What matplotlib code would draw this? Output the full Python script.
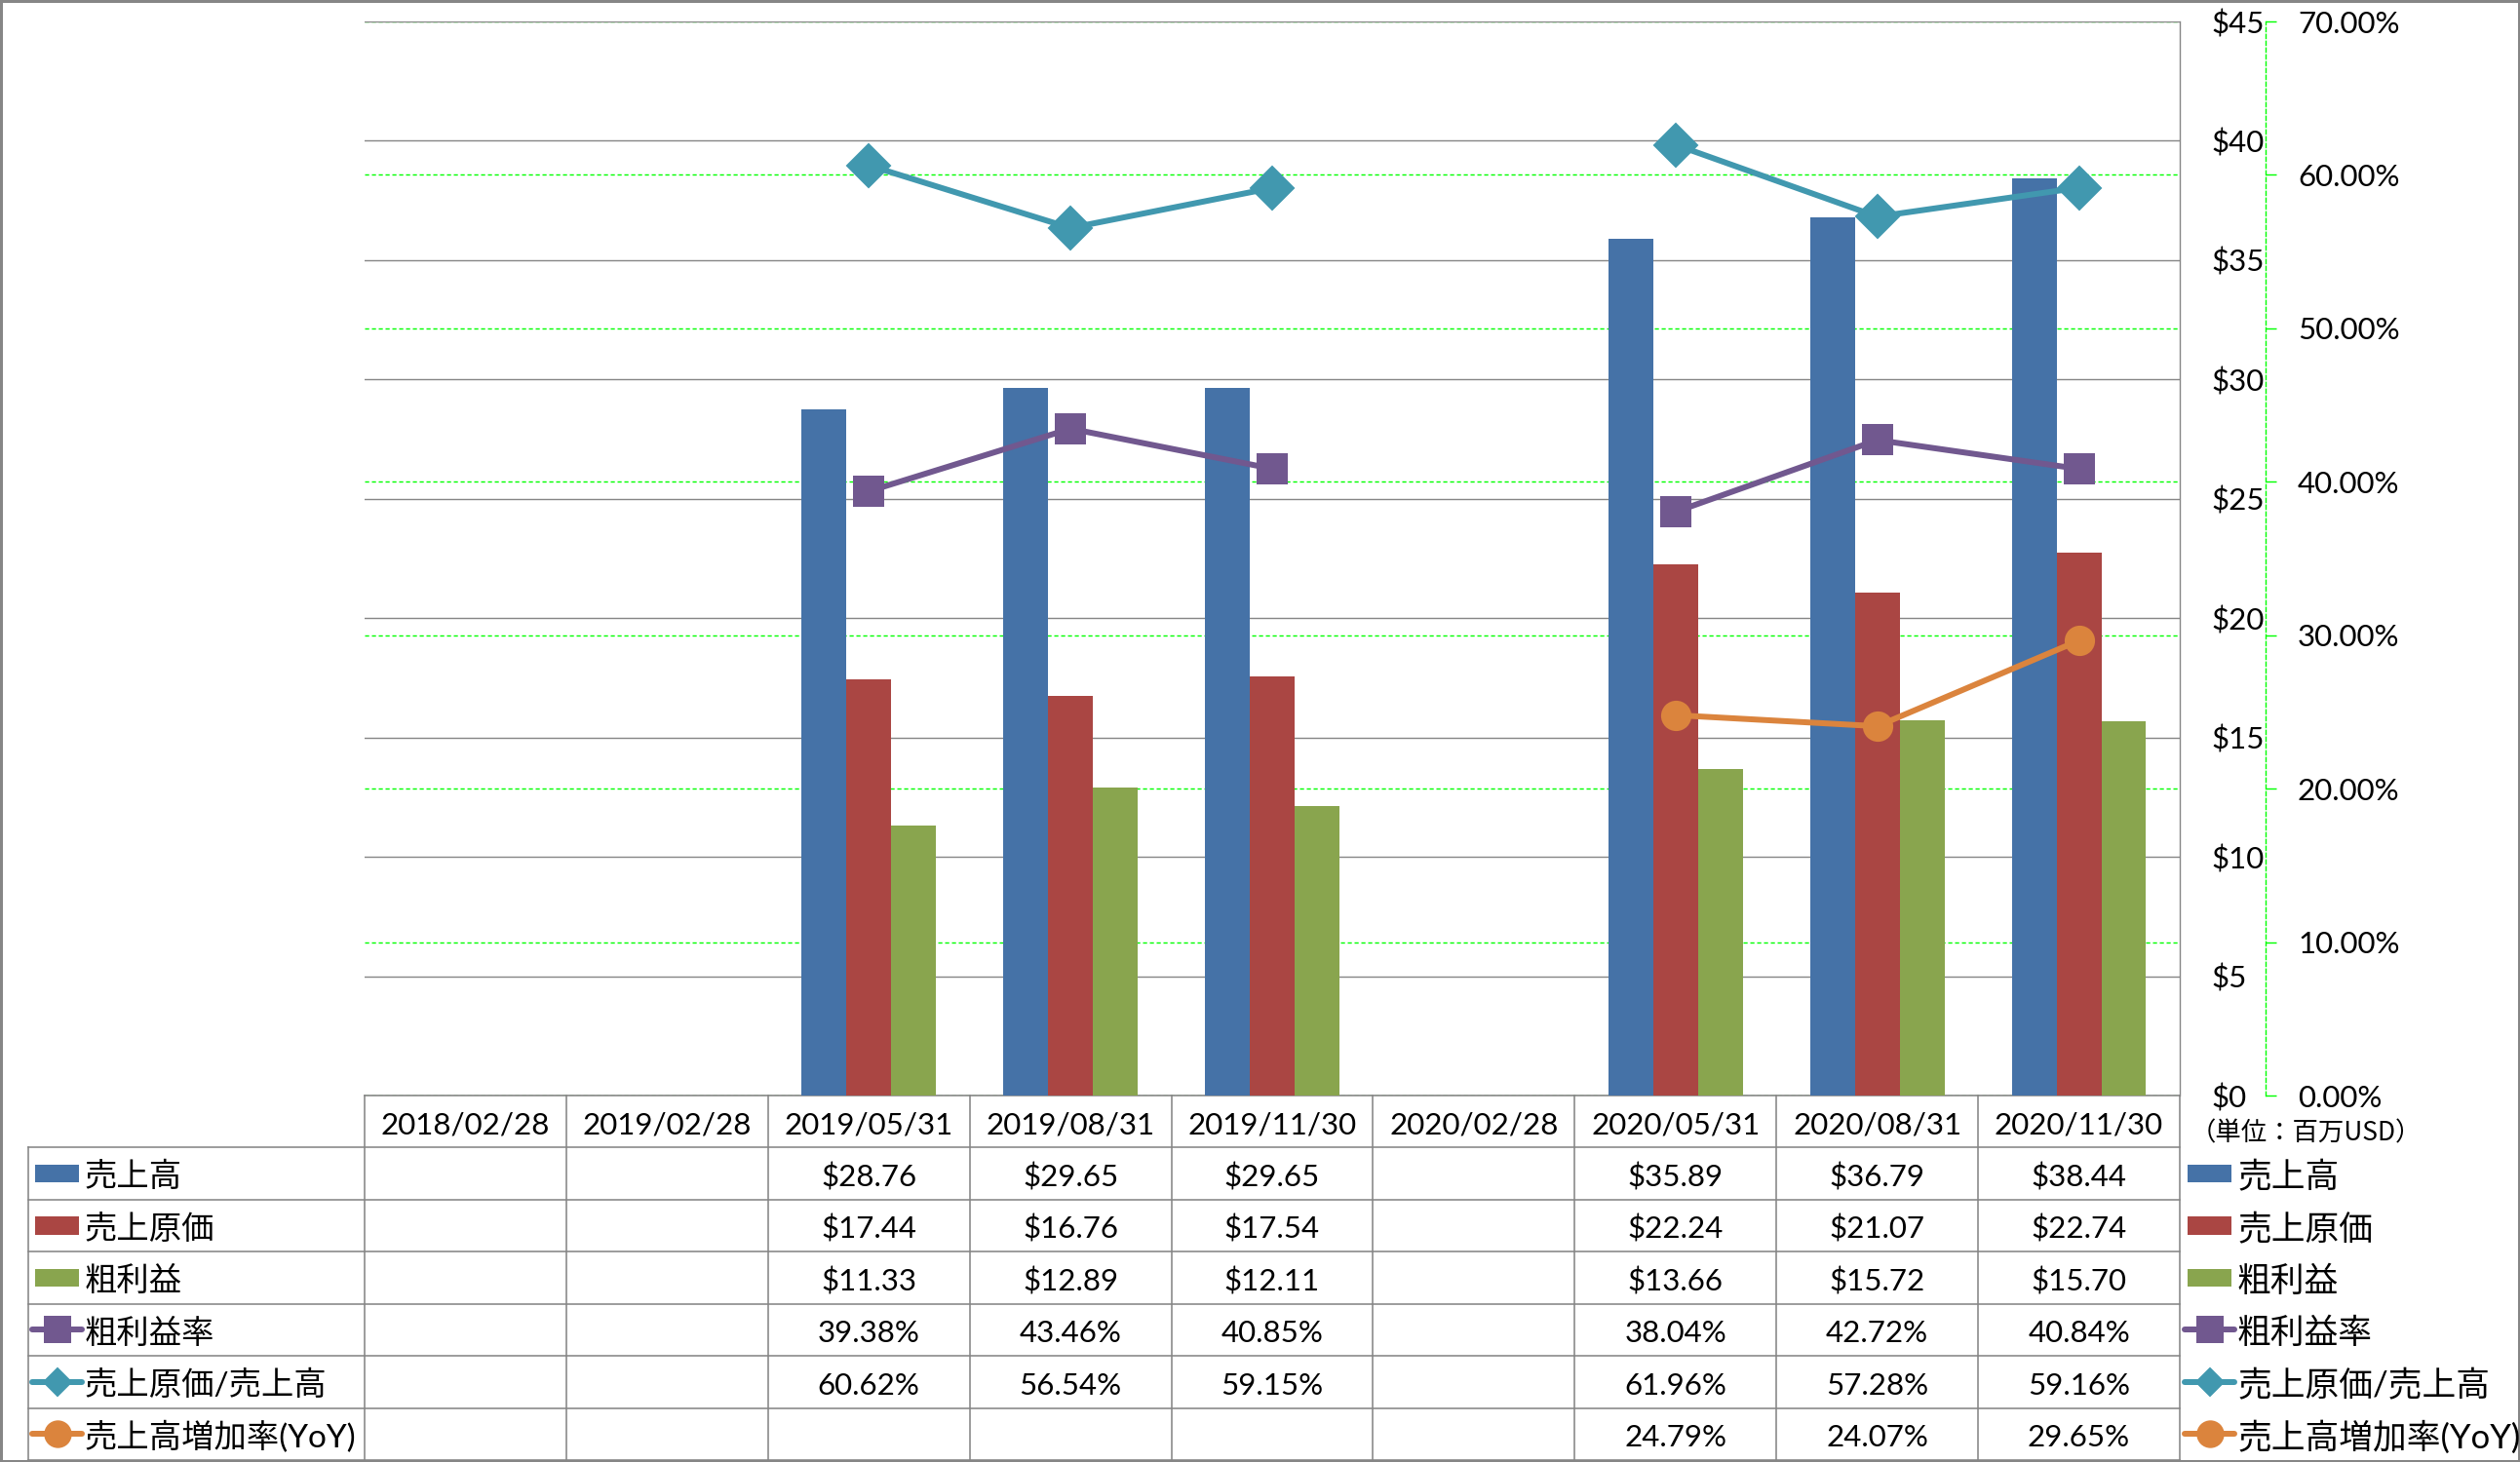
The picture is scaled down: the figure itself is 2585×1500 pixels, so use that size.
import matplotlib
matplotlib.use('Agg')
import matplotlib.pyplot as plt
import numpy as np
from matplotlib.transforms import blended_transform_factory
from matplotlib.lines import Line2D
from matplotlib.patches import Rectangle
from matplotlib.text import Text
from matplotlib.ticker import FuncFormatter, MultipleLocator

plt.rcParams['font.family'] = ['Lato', 'Noto Sans CJK JP', 'DejaVu Sans']
plt.rcParams['text.parse_math'] = False

# ---------------- data ----------------
categories = ['2018/02/28', '2019/02/28', '2019/05/31', '2019/08/31', '2019/11/30',
              '2020/02/28', '2020/05/31', '2020/08/31', '2020/11/30']
nan = np.nan
sales = [nan, nan, 28.76, 29.65, 29.65, nan, 35.89, 36.79, 38.44]
cogs = [nan, nan, 17.44, 16.76, 17.54, nan, 22.24, 21.07, 22.74]
gross = [nan, nan, 11.33, 12.89, 12.11, nan, 13.66, 15.72, 15.70]
gross_margin = [nan, nan, 39.38, 43.46, 40.85, nan, 38.04, 42.72, 40.84]
cogs_ratio = [nan, nan, 60.62, 56.54, 59.15, nan, 61.96, 57.28, 59.16]
sales_yoy = [nan, nan, nan, nan, nan, nan, 24.79, 24.07, 29.65]
series_names = ['売上高', '売上原価', '粗利益', '粗利益率', '売上原価/売上高', '売上高増加率(YoY)']
unit_label = '（単位：百万USD）'

# ---------------- style ----------------
BLUE, RED, GREEN = '#4572A7', '#AA4643', '#89A54E'
PURPLE, TEAL, ORANGE = '#71588F', '#4198AF', '#DB843D'
GRAY = '#868686'
LIME = '#00FF00'

W, H = 2585, 1500
DPI = 100


def pt(px):
    return px * 72.0 / DPI


fig = plt.figure(figsize=(W / DPI, H / DPI), dpi=DPI, facecolor='white',
                 edgecolor=GRAY, linewidth=pt(5))

PL, PR, PT_, PB = 374, 2236, 22, 1124
TB = 1498
TXT_DY = 0.07  # small downward nudge so glyphs look vertically centred in cells

ax = fig.add_axes([PL / W, 1 - PB / H, (PR - PL) / W, (PB - PT_) / H])
axg = ax.twinx()
axl = ax.twinx()
axg.set_zorder(0)
ax.set_zorder(1)
axl.set_zorder(2)
for a in (ax, axg, axl):
    a.patch.set_visible(False)

x = np.arange(len(categories))
bw = 0.222
ax.bar(x - bw, sales, bw, color=BLUE, zorder=3)
ax.bar(x, cogs, bw, color=RED, zorder=3)
ax.bar(x + bw, gross, bw, color=GREEN, zorder=3)
ax.set_xlim(-0.5, len(categories) - 0.5)
ax.set_ylim(0, 45)
ax.yaxis.set_major_locator(MultipleLocator(5))
ax.yaxis.set_major_formatter(FuncFormatter(lambda v, p: f'${v:.0f}'))
ax.yaxis.tick_right()
ax.tick_params(axis='y', length=0, pad=pt(32), labelsize=22.5, colors='black')
ax.set_xticks([])
ax.grid(axis='y', color=GRAY, linewidth=pt(1.4), zorder=0)
ax.set_axisbelow(True)
for s in ('left', 'top', 'bottom'):
    ax.spines[s].set_visible(False)
ax.spines['right'].set_color(GRAY)
ax.spines['right'].set_linewidth(pt(1.4))

# secondary axis with green dashed grid
axg.set_ylim(0, 70)
axg.yaxis.set_major_locator(MultipleLocator(10))
axg.yaxis.set_major_formatter(FuncFormatter(lambda v, p: f'{v:.2f}%'))
axg.grid(axis='y', color=LIME, linewidth=pt(1.4), linestyle=(0, (3, 2)))
for s in ('left', 'top', 'bottom'):
    axg.spines[s].set_visible(False)
axg.spines['right'].set_position(('outward', pt(88)))
axg.spines['right'].set_color(LIME)
axg.spines['right'].set_linestyle((0, (3, 2)))
axg.spines['right'].set_linewidth(pt(1.4))
axg.tick_params(axis='y', direction='out', length=pt(11), width=pt(1.4), color=LIME,
                pad=pt(22), labelsize=22.5, labelcolor='black')
axg.set_xticks([])

# lines
axl.set_ylim(0, 70)
axl.axis('off')
line_specs = [
    (gross_margin, PURPLE, 's', 21),
    (cogs_ratio, TEAL, 'D', 22.5),
    (sales_yoy, ORANGE, 'o', 21),
]
for vals, col, mk, ms in line_specs:
    axl.plot(x, vals, color=col, linewidth=pt(6), marker=mk, markersize=ms,
             markerfacecolor=col, markeredgecolor=col, markeredgewidth=pt(2))

# ---------------- data table ----------------
tax = fig.add_axes([PL / W, 1 - TB / H, (PR - PL) / W, (TB - PB) / H])
tax.set_xlim(-0.5, len(categories) - 0.5)
tax.set_ylim(7, 0)
tax.axis('off')
trL = blended_transform_factory(fig.transFigure, tax.transData)

# grid lines of the table
tax.plot([-0.5, len(categories) - 0.5], [0, 0], color=GRAY, lw=pt(1.6), clip_on=False)
for r in range(1, 8):
    fig.add_artist(Line2D([29 / W, PR / W], [r, r], transform=trL, color=GRAY, lw=pt(1.6)))
for b in np.arange(-0.5, len(categories), 1.0):
    tax.plot([b, b], [0, 7], color=GRAY, lw=pt(1.6), clip_on=False)
fig.add_artist(Line2D([29 / W, 29 / W], [1, 7], transform=trL, color=GRAY, lw=pt(1.6)))

# header
for i, c in enumerate(categories):
    tax.text(i, 0.5 + TXT_DY, c, ha='center', va='center', fontsize=22.5)

rows = [
    (sales, lambda v: f'${v:.2f}'),
    (cogs, lambda v: f'${v:.2f}'),
    (gross, lambda v: f'${v:.2f}'),
    (gross_margin, lambda v: f'{v:.2f}%'),
    (cogs_ratio, lambda v: f'{v:.2f}%'),
    (sales_yoy, lambda v: f'{v:.2f}%'),
]
for r, (vals, fmt) in enumerate(rows, start=1):
    for i, v in enumerate(vals):
        if not np.isnan(v):
            tax.text(i, r + 0.5 + TXT_DY, fmt(v), ha='center', va='center', fontsize=22.5)

# legend keys (left column of table and right legend)
key_specs = [
    ('bar', BLUE, None), ('bar', RED, None), ('bar', GREEN, None),
    ('line', PURPLE, 's'), ('line', TEAL, 'D'), ('line', ORANGE, 'o'),
]
key_ms = {'s': 19, 'D': 14, 'o': 19}


def draw_keys(bar_x0, line_x0, text_x, fs):
    for r, ((kind, col, mk), name) in enumerate(zip(key_specs, series_names), start=1):
        yc = r + 0.5
        if kind == 'bar':
            fig.add_artist(Rectangle((bar_x0 / W, yc - 0.17), 45 / W, 0.34,
                                     transform=trL, facecolor=col, edgecolor='none'))
        else:
            fig.add_artist(Line2D([line_x0 / W, (line_x0 + 51) / W], [yc, yc], transform=trL,
                                  color=col, lw=pt(6), solid_capstyle='round'))
            fig.add_artist(Line2D([(line_x0 + 25.5) / W], [yc], transform=trL, marker=mk,
                                  markersize=key_ms[mk], color=col, markeredgewidth=pt(2)))
        fig.add_artist(Text(text_x / W, yc + TXT_DY, name, transform=trL, ha='left',
                            va='center', fontsize=fs))


draw_keys(36, 33, 87, 24)
draw_keys(2244, 2241, 2295, 25)

fig.text(2247 / W, 1 - 1163 / H, unit_label, ha='left', va='center', fontsize=19,
         family=['Noto Sans CJK JP', 'DejaVu Sans'])

fig.savefig('out.png', dpi=DPI)
